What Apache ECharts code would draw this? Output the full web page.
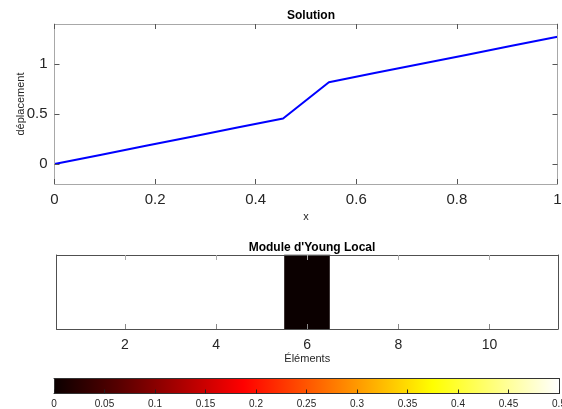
<!DOCTYPE html>
<html><head><meta charset="utf-8">
<script src="https://cdn.jsdelivr.net/npm/echarts@6/dist/echarts.min.js"></script>
<style>html,body{margin:0;padding:0;background:#fff}#c{width:562px;height:409px}</style>
</head><body><div id="c"></div>
<script>
// ---- data ----
const nodeX = [0, 0.0909, 0.1818, 0.2727, 0.3636, 0.4545, 0.5455, 0.6364, 0.7273, 0.8182, 0.9091, 1.0];
const displacement = [0, 0.091, 0.182, 0.273, 0.364, 0.455, 0.818, 0.909, 1.0, 1.091, 1.182, 1.273];
const elements = ['1','2','3','4','5','6','7','8','9','10','11'];
const youngLocal = [0.5, 0.5, 0.5, 0.5, 0.5, 0, 0.5, 0.5, 0.5, 0.5, 0.5];
const solutionYTicks = [0, 0.5, 1];
const colorbarRange = [0, 0.5];
const hotColors = ['#0b0000','#550000','#aa0000','#ff0000','#ff5500','#ffaa00','#ffff00','#ffff80','#ffffff'];

const FONT = 'Liberation Sans, Arial, sans-serif';
const TXT = '#262626';
const chart = echarts.init(document.getElementById('c'), null, {renderer: 'canvas'});

const topBox = '#a8a8a8';
const botBox = '#505050';
const AZ = 10;

const option = {
  animation: false,
  backgroundColor: '#fff',
  textStyle: {fontFamily: FONT},
  title: [
    {text: 'Solution', left: 306, top: 5, textAlign: 'center',
     textStyle: {fontSize: 12, fontWeight: 'bold', color: '#000', fontFamily: FONT}},
    {text: "Module d'Young Local", left: 307, top: 237, textAlign: 'center',
     textStyle: {fontSize: 12, fontWeight: 'bold', color: '#000', fontFamily: FONT}}
  ],
  grid: [
    {left: 54.5, top: 24, width: 503, height: 160, containLabel: false, outerBoundsMode: 'none'},
    {left: 56.5, top: 255, width: 501.5, height: 74, containLabel: false, outerBoundsMode: 'none'},
    {left: 54, top: 378.5, width: 505, height: 15, containLabel: false, outerBoundsMode: 'none'}
  ],
  xAxis: [
    {gridIndex: 0, type: 'value', min: 0, max: 1, interval: 0.2, position: 'bottom', z: AZ,
     name: 'x', nameLocation: 'middle', nameGap: 27, nameMoveOverlap: false,
     nameTextStyle: {fontSize: 11, color: TXT, fontFamily: FONT},
     axisLine: {show: true, onZero: false, lineStyle: {color: topBox, width: 1}},
     axisTick: {show: true, inside: true, length: 5, lineStyle: {color: '#555'}},
     axisLabel: {fontSize: 15, color: TXT, margin: 8, fontFamily: FONT,
                 formatter: v => String(+v.toFixed(2))},
     splitLine: {show: false}},
    {gridIndex: 0, type: 'value', min: 0, max: 1, interval: 0.2, position: 'top', z: AZ,
     axisLine: {show: true, onZero: false, lineStyle: {color: topBox, width: 1}},
     axisTick: {show: true, inside: true, length: 5, lineStyle: {color: '#555'}},
     axisLabel: {show: false}, splitLine: {show: false}},
    {gridIndex: 1, type: 'category', data: elements, position: 'bottom', z: AZ,
     name: 'Éléments', nameLocation: 'middle', nameGap: 24, nameMoveOverlap: false,
     nameTextStyle: {fontSize: 11, color: TXT, fontFamily: FONT},
     axisLine: {show: true, onZero: false, lineStyle: {color: botBox, width: 1}},
     axisTick: {show: true, inside: true, length: 5, alignWithLabel: true,
                interval: i => i % 2 === 1, lineStyle: {color: '#888'}},
     axisLabel: {fontSize: 14, color: TXT, margin: 9, fontFamily: FONT, interval: i => i % 2 === 1},
     splitLine: {show: false}},
    {gridIndex: 1, type: 'category', data: elements, position: 'top', z: AZ,
     axisLine: {show: true, onZero: false, lineStyle: {color: botBox, width: 1}},
     axisTick: {show: true, inside: true, length: 5, alignWithLabel: true,
                interval: i => i % 2 === 1, lineStyle: {color: '#aaa'}},
     axisLabel: {show: false}, splitLine: {show: false}},
    {gridIndex: 2, type: 'value', min: colorbarRange[0], max: colorbarRange[1], interval: 0.05, position: 'bottom', z: AZ,
     axisLine: {show: true, onZero: false, lineStyle: {color: '#333', width: 1}},
     axisTick: {show: true, inside: true, length: 4, lineStyle: {color: '#222'}},
     axisLabel: {fontSize: 10, color: TXT, margin: 6, fontFamily: FONT,
                 formatter: v => String(+v.toFixed(2))},
     splitLine: {show: false}},
    {gridIndex: 2, type: 'value', min: colorbarRange[0], max: colorbarRange[1], position: 'top', z: AZ,
     axisLine: {show: true, onZero: false, lineStyle: {color: '#333', width: 1}},
     axisTick: {show: false}, axisLabel: {show: false}, splitLine: {show: false}}
  ],
  yAxis: [
    {gridIndex: 0, type: 'value', min: -0.2, max: 1.4, position: 'left', z: AZ,
     name: 'déplacement', nameLocation: 'middle', nameGap: 28, nameRotate: 90, nameMoveOverlap: false,
     nameTextStyle: {fontSize: 11, color: TXT, fontFamily: FONT},
     axisLine: {show: true, onZero: false, lineStyle: {color: topBox, width: 1}},
     axisTick: {show: true, inside: true, length: 5, customValues: solutionYTicks, lineStyle: {color: '#555'}},
     axisLabel: {fontSize: 15, color: TXT, margin: 7, fontFamily: FONT, customValues: solutionYTicks,
                 formatter: v => String(v)},
     splitLine: {show: false}},
    {gridIndex: 0, type: 'value', min: -0.2, max: 1.4, position: 'right', z: AZ,
     axisLine: {show: true, onZero: false, lineStyle: {color: topBox, width: 1}},
     axisTick: {show: true, inside: true, length: 5, customValues: solutionYTicks, lineStyle: {color: '#555'}},
     axisLabel: {show: false, customValues: solutionYTicks}, splitLine: {show: false}},
    {gridIndex: 1, type: 'category', data: ['1'], position: 'left', z: AZ,
     axisLine: {show: true, onZero: false, lineStyle: {color: botBox, width: 1}},
     axisTick: {show: false}, axisLabel: {show: false}, splitLine: {show: false}},
    {gridIndex: 1, type: 'category', data: ['1'], position: 'right', z: AZ,
     axisLine: {show: true, onZero: false, lineStyle: {color: botBox, width: 1}},
     axisTick: {show: false}, axisLabel: {show: false}, splitLine: {show: false}},
    {gridIndex: 2, type: 'value', min: 0, max: 1, position: 'left', z: AZ,
     axisLine: {show: true, onZero: false, lineStyle: {color: '#333', width: 1}},
     axisTick: {show: false}, axisLabel: {show: false}, splitLine: {show: false}},
    {gridIndex: 2, type: 'value', min: 0, max: 1, position: 'right', z: AZ,
     axisLine: {show: true, onZero: false, lineStyle: {color: '#333', width: 1}},
     axisTick: {show: false}, axisLabel: {show: false}, splitLine: {show: false}}
  ],
  visualMap: {
    type: 'continuous', show: false, min: colorbarRange[0], max: colorbarRange[1],
    seriesIndex: 1, dimension: 2, inRange: {color: hotColors}
  },
  series: [
    {type: 'line', xAxisIndex: 0, yAxisIndex: 0, symbol: 'none',
     lineStyle: {color: '#0000ff', width: 2}, itemStyle: {color: '#0000ff'},
     data: nodeX.map((x, i) => [x, displacement[i]]), z: 3},
    {type: 'heatmap', xAxisIndex: 2, yAxisIndex: 2,
     data: youngLocal.map((v, i) => [i, 0, v]),
     itemStyle: {borderWidth: 0}, z: 1},
    {type: 'custom', xAxisIndex: 4, yAxisIndex: 4, z: 1,
     data: [[colorbarRange[0], colorbarRange[1]]],
     renderItem: function (params, api) {
       const p0 = api.coord([api.value(0), 0]);
       const p1 = api.coord([api.value(1), 1]);
       return {
         type: 'rect',
         shape: {x: p0[0], y: p1[1], width: p1[0] - p0[0], height: p0[1] - p1[1]},
         style: {fill: new echarts.graphic.LinearGradient(0, 0, 1, 0,
           hotColors.map((c, i) => ({offset: i / (hotColors.length - 1), color: c})))}
       };
     }}
  ]
};
chart.setOption(option);
</script></body></html>
